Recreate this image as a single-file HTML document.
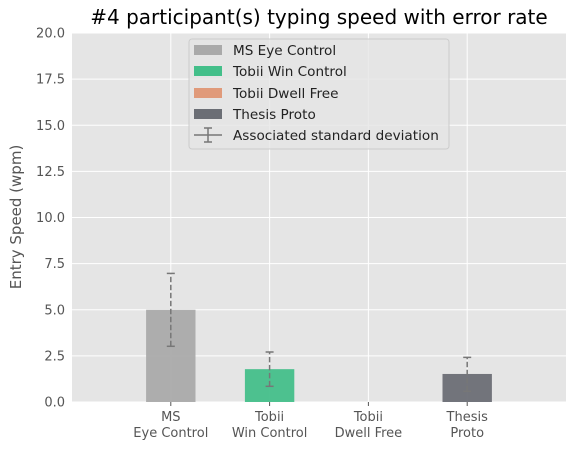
<!DOCTYPE html>
<html><head><meta charset="utf-8"><style>
body{margin:0;background:#fff;font-family:"DejaVu Sans","Liberation Sans",sans-serif}
svg text{font-family:"DejaVu Sans","Liberation Sans",sans-serif}
</style></head><body>
<svg id="c" width="580" height="452">
<text x="319" y="24" font-size="20" text-anchor="middle" fill="#000">#4 participant(s) typing speed with error rate</text>
<rect x="72" y="33" width="494" height="369" fill="#e5e5e5"/>
<g id="grid"></g><g id="bars"></g><g id="err"></g><g id="ticks"></g>
<text transform="translate(21,217) rotate(-90)" font-size="15" text-anchor="middle" fill="#555">Entry Speed (wpm)</text>
<g>
<rect x="189" y="39" width="260" height="110" fill="#e5e5e5" fill-opacity="0.8" stroke="#ccc" rx="3"/>
<rect x="194" y="45" width="28" height="10" fill="#aaaaaa"/>
<text x="233" y="55" font-size="13.6" fill="#222">MS Eye Control</text>
<rect x="194" y="66" width="28" height="10" fill="#44bf8a"/>
<text x="233" y="76" font-size="13.6" fill="#222">Tobii Win Control</text>
<rect x="194" y="88" width="28" height="10" fill="#e09a7a"/>
<text x="233" y="98" font-size="13.6" fill="#222">Tobii Dwell Free</text>
<rect x="194" y="109" width="28" height="10" fill="#6b6e75"/>
<text x="233" y="119" font-size="13.6" fill="#222">Thesis Proto</text>
<g stroke="#777" stroke-width="1.5">
<line x1="194" y1="135" x2="222" y2="135"/><line x1="208" y1="128" x2="208" y2="142"/>
<line x1="204" y1="128" x2="212" y2="128"/><line x1="204" y1="142" x2="212" y2="142"/></g>
<text x="233" y="140" font-size="13.6" fill="#222">Associated standard deviation</text>
</g>
</svg>
<script>
const categories=["MS\nEye Control","Tobii\nWin Control","Tobii\nDwell Free","Thesis\nProto"];
const values=[5.0,1.78,0,1.52];
const errLow=[3.02,0.85,0,0.58];
const errHigh=[6.97,2.71,0,2.42];
const colors=["#aaaaaa","#44bf8a","#e09a7a","#6b6e75"];
const yTicks=[0,2.5,5,7.5,10,12.5,15,17.5,20];
const ns="http://www.w3.org/2000/svg";
const X0=72,W=494,Y0=402,H=369;
const xs=i=>X0+(i+1)*W/5;
const ys=v=>Y0-v/20*H;
function mk(p,t,a){const e=document.createElementNS(ns,t);for(const k in a)e.setAttribute(k,a[k]);document.getElementById(p).appendChild(e);return e;}
yTicks.forEach((t,i)=>{
 const l=mk('grid','line',{x1:X0,x2:X0+W,y1:ys(t),y2:ys(t),stroke:'#fff','stroke-width':1});
 
 
 const tx=mk('ticks','text',{x:X0-7,y:ys(t)+4.5,'font-size':13,'text-anchor':'end',fill:'#555'});
 tx.textContent=t.toFixed(1);
 
 
});
categories.forEach((c,i)=>{
 const g=mk('grid','line',{x1:xs(i),x2:xs(i),y1:33,y2:Y0,stroke:'#fff','stroke-width':1});
 
 
 const bw=W/5*0.5;
 const b=mk('bars','rect',{x:xs(i)-bw/2,y:ys(values[i]),width:bw,height:Y0-ys(values[i]),fill:colors[i],'fill-opacity':0.95});
 
 
 if(errHigh[i]>0){
  const a={stroke:'#777','stroke-width':1.5};
  const e=mk('err','line',Object.assign({x1:xs(i),x2:xs(i),y1:ys(errLow[i]),y2:ys(errHigh[i]),'stroke-dasharray':'5.5,2.5'},a));
  
  
  mk('err','line',Object.assign({x1:xs(i)-4,x2:xs(i)+4,y1:ys(errLow[i]),y2:ys(errLow[i])},a));
  mk('err','line',Object.assign({x1:xs(i)-4,x2:xs(i)+4,y1:ys(errHigh[i]),y2:ys(errHigh[i])},a));
 }
 mk('ticks','line',{x1:xs(i),x2:xs(i),y1:Y0,y2:Y0+4,stroke:'#555'});
 c.split("\n").forEach((s,j)=>{
  const t=mk('ticks','text',{x:xs(i),y:421+j*16,'font-size':13,'text-anchor':'middle',fill:'#555'});
  t.textContent=s;
  
  
 });
});
</script>
</body></html>
